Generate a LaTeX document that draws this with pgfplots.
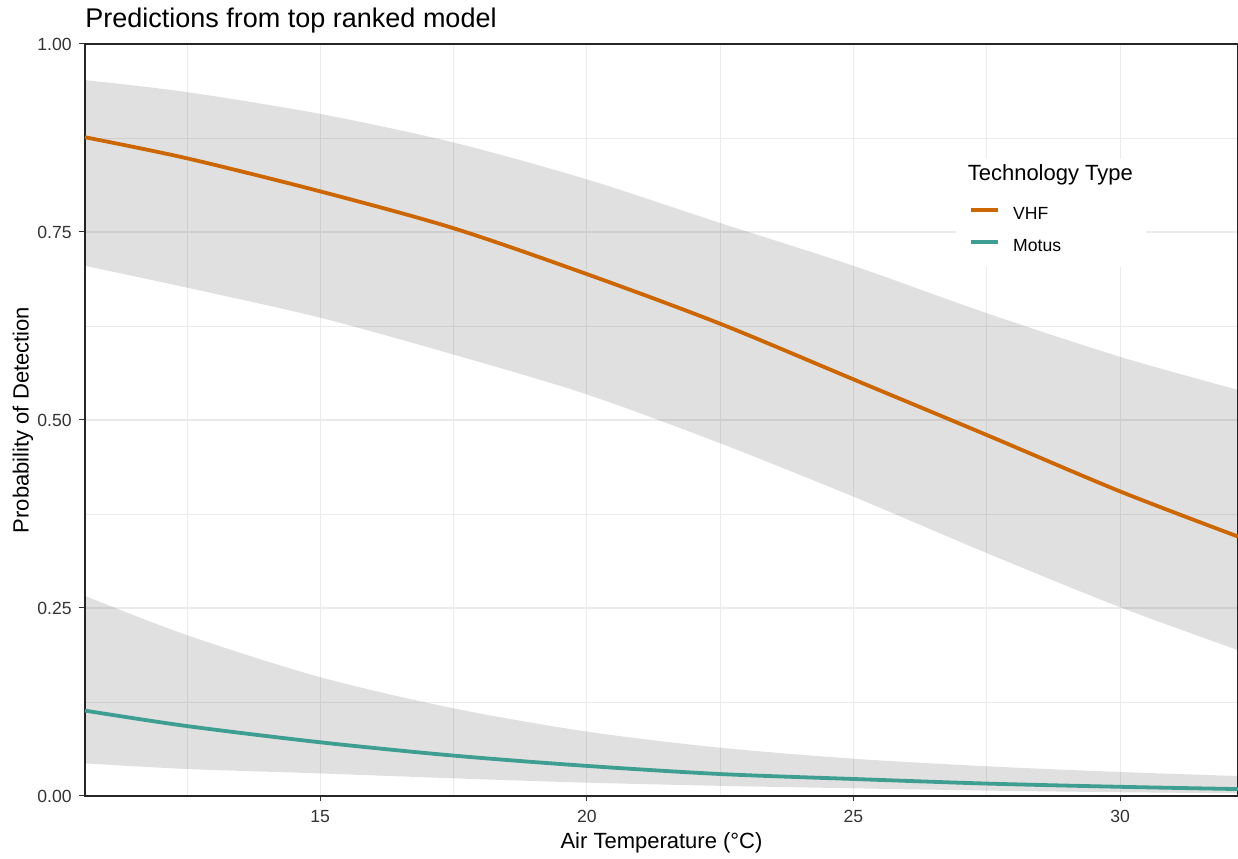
\documentclass[border=0pt]{standalone}
\usepackage{fontspec}
\setmainfont{Liberation Sans}
\usepackage{pgfplots}
\pgfplotsset{compat=1.18}
\usepackage{pgfplotstable}
\usepgfplotslibrary{fillbetween}

\definecolor{vhfcol}{RGB}{204,102,0}
\definecolor{motuscol}{RGB}{62,158,146}
\definecolor{gridcol}{RGB}{235,235,235}

% predicted probability with 95% interval, by air temperature
\pgfplotstableread{
x     fit    lo     hi
10.59 0.876  0.705  0.952
12.5  0.848  0.676  0.936
15    0.804  0.636  0.907
17.5  0.755  0.587  0.869
20    0.694  0.534  0.820
22.5  0.628  0.469  0.762
25    0.554  0.398  0.705
27.5  0.480  0.323  0.642
30    0.405  0.251  0.584
32.21 0.345  0.194  0.540
}\vhf

\pgfplotstableread{
x     fit    lo     hi
10.59 0.1135 0.0434 0.266
12.5  0.0930 0.0359 0.214
15    0.0714 0.0300 0.158
17.5  0.0537 0.0235 0.1166
20    0.0400 0.0177 0.0856
22.5  0.0292 0.0135 0.0642
25    0.0226 0.0102 0.0496
27.5  0.0165 0.0072 0.0395
30    0.0122 0.0050 0.0319
32.21 0.0092 0.0036 0.0266
}\motus

\begin{document}
\begin{tikzpicture}
\begin{axis}[
  name=ax,
  scale only axis, width=576.5pt, height=376pt,
  xmin=10.59, xmax=32.21, ymin=0, ymax=1,
  xtick={15,20,25,30}, ytick={0,0.25,0.5,0.75,1},
  minor xtick={12.5,17.5,22.5,27.5},
  minor ytick={0.125,0.375,0.625,0.875},
  grid=both,
  major grid style={draw=gridcol, line width=0.6pt},
  minor grid style={draw=gridcol, line width=0.35pt},
  minor tick length=0pt,
  tick pos=left,
  tick align=outside, major tick length=2.75pt,
  tick style={black!80, line width=0.5pt},
  axis line style={black!85, line width=0.6pt},
  /pgf/number format/assume math mode=true,
  yticklabel style={/pgf/number format/.cd, fixed, fixed zerofill, precision=2, /tikz/.cd,
    anchor=east, inner sep=0pt, xshift=-3.75pt},
  xticklabel style={anchor=base, inner sep=0pt, yshift=-10.55pt},
  ticklabel style={font=\fontsize{8.8}{10}\selectfont, text=black!80},
  title={Predictions from top ranked model},
  title style={at={(axis description cs:0,1.00585)}, anchor=base west, inner sep=0pt,
    font=\fontsize{13.5}{16}\selectfont},
  xlabel={Air Temperature (°C)},
  xlabel style={at={(axis description cs:0.5,-0.07048)}, anchor=base, inner sep=0pt,
    font=\fontsize{11}{13}\selectfont},
  ylabel={Probability of Detection},
  ylabel style={at={(axis description cs:-0.04892,0.5)}, anchor=base, inner sep=0pt,
    font=\fontsize{11}{13}\selectfont},
  legend cell align=left,
  legend style={at={(rel axis cs:0.75542,0.84787)}, anchor=north west,
    draw=none, fill=white, inner xsep=6.5pt, inner ysep=7.7pt,
    row sep=10pt, column sep=6.5pt,
    font=\fontsize{8.8}{10}\selectfont,
    nodes={inner sep=0pt, text height=6.3pt, text depth=0pt}},
  legend image code/.code={\draw[#1, line width=2pt] (0pt,1.7pt) -- (13.4pt,1.7pt);},
]
\addlegendimage{empty legend}
\addlegendentry{\hspace*{-22.7pt}\raisebox{3.2pt}{\fontsize{11}{13}\selectfont Technology Type}}

% confidence ribbons
\addplot[name path=vhfhi, draw=none, smooth, forget plot] table[x=x, y=hi]{\vhf};
\addplot[name path=vhflo, draw=none, smooth, forget plot] table[x=x, y=lo]{\vhf};
\addplot[fill=black, fill opacity=0.12, draw=none, forget plot] fill between[of=vhfhi and vhflo];

\addplot[name path=mothi, draw=none, smooth, forget plot] table[x=x, y=hi]{\motus};
\addplot[name path=motlo, draw=none, smooth, forget plot] table[x=x, y=lo]{\motus};
\addplot[fill=black, fill opacity=0.12, draw=none, forget plot] fill between[of=mothi and motlo];

% fitted curves
\addplot[vhfcol, line width=1.9pt, smooth] table[x=x, y=fit]{\vhf};
\addlegendentry{VHF}
\addplot[motuscol, line width=1.9pt, smooth] table[x=x, y=fit]{\motus};
\addlegendentry{Motus}
\end{axis}
\pgfresetboundingbox
\useasboundingbox ([shift={(-42.5pt,-31.5pt)}]ax.south west) rectangle ([shift={(0pt,22pt)}]ax.north east);
\end{tikzpicture}
\end{document}
